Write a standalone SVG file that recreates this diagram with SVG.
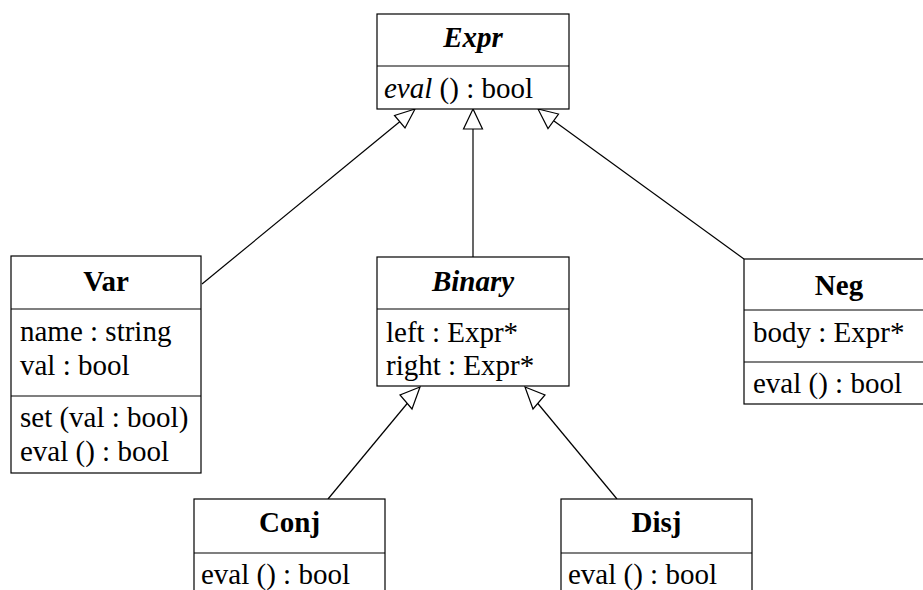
<svg xmlns="http://www.w3.org/2000/svg" width="923" height="590" viewBox="0 0 923 590">
<defs>
<style>
.box{fill:#fff;stroke:#000;stroke-width:1.2}
.div{stroke:#000;stroke-width:1.2}
text{font-family:'Liberation Serif','Times New Roman',serif;font-size:29px;fill:#000}
.t{font-weight:bold;text-anchor:middle}
.i{font-style:italic}
.edge{stroke:#000;stroke-width:1.2;fill:none}
.head{fill:#fff;stroke:#000;stroke-width:1.2;stroke-linejoin:miter}
</style>
</defs>
<rect width="923" height="590" fill="#fff"/>
<g id="connectors">
<line class="edge" x1="202" y1="284" x2="400" y2="121.5"/>
<polygon class="head" points="415,109 394.5,115.5 405,128"/>
<line class="edge" x1="473" y1="257" x2="473" y2="129"/>
<polygon class="head" points="473,109 463.5,129 482.5,129"/>
<line class="edge" x1="744" y1="259" x2="554" y2="121"/>
<polygon class="head" points="538,109 558.5,114 548,128.5"/>
<line class="edge" x1="328" y1="499" x2="408" y2="402.5"/>
<polygon class="head" points="420,387 400,395 412,409"/>
<line class="edge" x1="617" y1="499" x2="537" y2="402.5"/>
<polygon class="head" points="525,387 545,395 533,409"/>
</g>
<g id="Expr">
<rect class="box" x="377" y="14" width="192" height="95"/>
<line class="div" x1="377" y1="66" x2="569" y2="66"/>
<text class="t i" x="473" y="47">Expr</text>
<text x="384" y="98"><tspan class="i">eval</tspan> () : bool</text>
</g>
<g id="Var">
<rect class="box" x="11" y="256" width="190" height="217"/>
<line class="div" x1="11" y1="309" x2="201" y2="309"/>
<line class="div" x1="11" y1="396" x2="201" y2="396"/>
<text class="t" x="106" y="291">Var</text>
<text x="20" y="341">name : string</text>
<text x="20" y="374.5">val : bool</text>
<text x="20" y="427">set (val : bool)</text>
<text x="20" y="461">eval () : bool</text>
</g>
<g id="Binary">
<rect class="box" x="377" y="257" width="192" height="129"/>
<line class="div" x1="377" y1="309" x2="569" y2="309"/>
<text class="t i" x="473" y="291">Binary</text>
<text x="386" y="341.5">left : Expr*</text>
<text x="386" y="375">right : Expr*</text>
</g>
<g id="Neg">
<rect class="box" x="744" y="259" width="192" height="145"/>
<line class="div" x1="744" y1="310" x2="936" y2="310"/>
<line class="div" x1="744" y1="362" x2="936" y2="362"/>
<text class="t" x="839" y="295">Neg</text>
<text x="753" y="341.5">body : Expr*</text>
<text x="753" y="393">eval () : bool</text>
</g>
<g id="Conj">
<rect class="box" x="194" y="499" width="191" height="110"/>
<line class="div" x1="194" y1="553" x2="385" y2="553"/>
<text class="t" x="289.5" y="532">Conj</text>
<text x="201" y="584">eval () : bool</text>
</g>
<g id="Disj">
<rect class="box" x="561" y="499" width="191" height="110"/>
<line class="div" x1="561" y1="553" x2="752" y2="553"/>
<text class="t" x="656.5" y="532">Disj</text>
<text x="568" y="584">eval () : bool</text>
</g>
</svg>
